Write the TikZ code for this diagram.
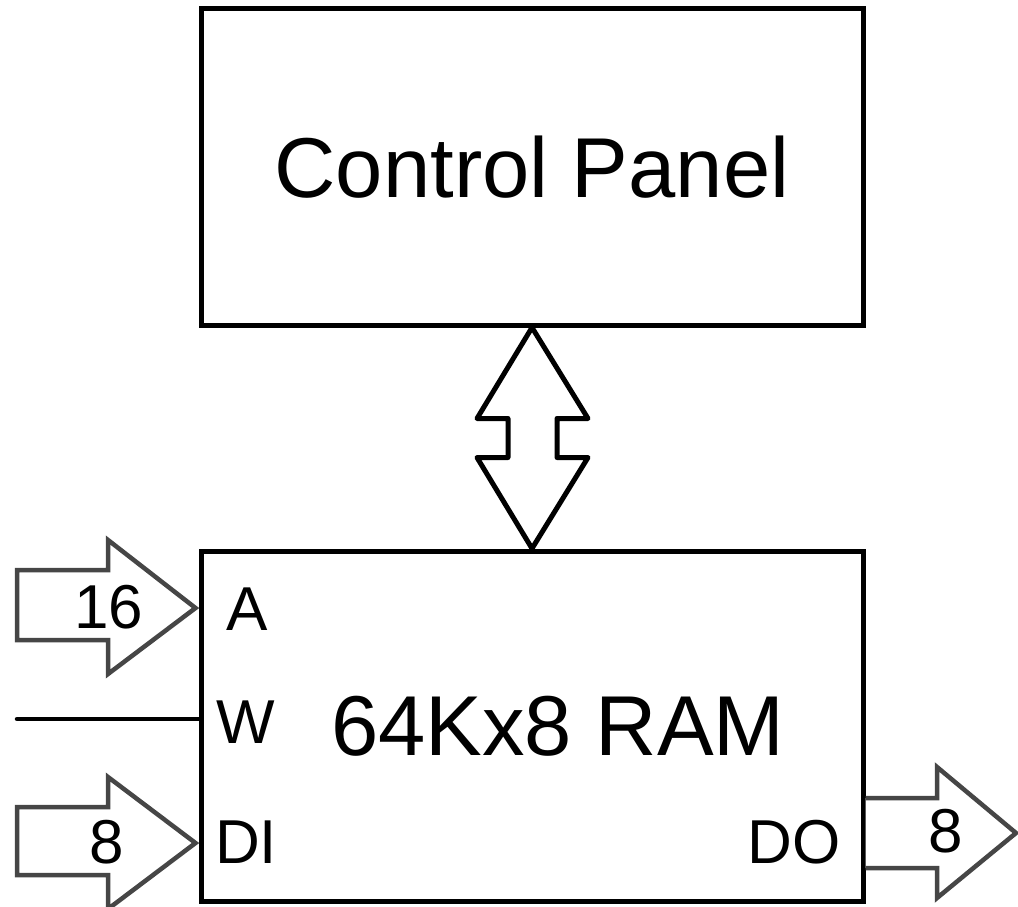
\documentclass[tikz,border=0pt]{standalone}
\usepackage{fontspec}
\setmainfont{Liberation Sans}
\usetikzlibrary{calc}
\definecolor{arrowgray}{HTML}{464646}
\begin{document}
\begin{tikzpicture}[x=1pt,y=-1pt,
  blockbox/.style={draw=black, line width=5pt, inner sep=0pt},
  bigtext/.style={font=\fontsize{85}{90}\selectfont, inner sep=0pt},
  smalltext/.style={font=\fontsize{62}{66}\selectfont, inner sep=0pt, anchor=base},
  busarrow/.style={draw=arrowgray, line width=4.5pt, line join=miter, fill=white},
  dbl/.style={draw=black, line width=5pt, line join=round, fill=white}]
\useasboundingbox (0,0) rectangle (1018,907);
% boxes
\node[blockbox, minimum width=662pt, minimum height=316pt, bigtext] (panel) at (532,167) {Control Panel};
\node[blockbox, minimum width=662pt, minimum height=350pt] (ram) at (532,726) {};
\node[bigtext, anchor=base] (ramlabel) at (558,755) {64Kx8 RAM};
% port labels
\node[smalltext] (pa) at (247,630) {A};
\node[smalltext] (pw) at (246,743) {W};
\node[smalltext] (pdi) at (246,863) {DI};
\node[smalltext] (pdo) at (794,863) {DO};
% double arrow between panel and ram
\draw[dbl] (panel.south) -- ($(panel.south)+(56,91)$) -- ($(panel.south)+(25,91)$)
  -- ($(ram.north)+(25,-91)$) -- ($(ram.north)+(56,-91)$) -- (ram.north)
  -- ($(ram.north)+(-55,-91)$) -- ($(ram.north)+(-24,-91)$)
  -- ($(panel.south)+(-24,91)$) -- ($(panel.south)+(-55,91)$) -- cycle;
% A bus arrow
\coordinate (ain) at (ram.west |- 0,608);
\draw[busarrow] (17,570) -- (108,570) -- (108,540) -- ($(ain)+(-3,0)$) -- (108,674) -- (108,640) -- (17,640) -- cycle;
\node[smalltext] (na) at (109,628) {16};
% W line
\coordinate (wstart) at (17,719);
\draw[line width=4.5pt, line cap=round] (wstart) -- (ram.west |- wstart);
% DI bus arrow
\coordinate (diin) at (ram.west |- 0,843);
\draw[busarrow] (17,807) -- (108,807) -- (108,777) -- ($(diin)+(-3,0)$) -- (108,909) -- (108,875) -- (17,875) -- cycle;
\node[smalltext] (ndi) at (107,863) {8};
% DO bus arrow
\coordinate (doout) at (ram.east |- 0,798);
\draw[busarrow] (doout) -- (937,798) -- (937,767) -- (1016,833) -- (937,898) -- (937,868) -- (ram.east |- 0,868);
\node[smalltext] (ndo) at (946,852) {8};
\end{tikzpicture}
\end{document}
